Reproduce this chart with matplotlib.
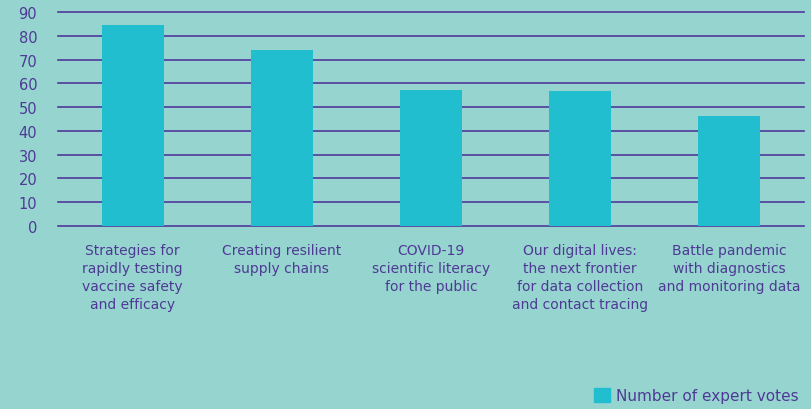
import matplotlib
matplotlib.use('Agg')
from matplotlib import pyplot as plt
from matplotlib.patches import Patch

categories = ['Strategies for\nrapidly testing\nvaccine safety\nand efficacy',
              'Creating resilient\nsupply chains',
              'COVID-19\nscientific literacy\nfor the public',
              'Our digital lives:\nthe next frontier\nfor data collection\nand contact tracing',
              'Battle pandemic\nwith diagnostics\nand monitoring data']
votes = [84.5, 74.0, 57.2, 56.8, 46.3]
yticks = [0, 10, 20, 30, 40, 50, 60, 70, 80, 90]

bg = '#96d4d0'
bar_color = '#20bece'
text_color = '#4e3a94'
grid_color = '#4f3a9a'

fig = plt.figure(figsize=(8.12, 4.10), dpi=100, facecolor=bg)
ax = fig.add_axes([58 / 812, 1 - 227 / 410, (804 - 58) / 812, 214 / 410])
ax.set_facecolor(bg)

x = range(len(categories))
ax.bar(x, votes, width=0.415, color=bar_color, zorder=3)

ax.set_ylim(0, 90)
ax.set_xlim(-0.5, len(categories) - 0.5)
ax.set_yticks(yticks)
ax.set_yticklabels([str(v) for v in yticks], fontsize=10.5)
ax.set_xticks(list(x))
ax.set_xticklabels(categories, linespacing=1.38, va='top', fontsize=10)
for s in ax.spines.values():
    s.set_visible(False)
ax.tick_params(axis='both', length=0, colors=text_color)
ax.tick_params(axis='x', pad=12)
ax.tick_params(axis='y', pad=15)
ax.yaxis.grid(True, color=grid_color, linewidth=1.2, zorder=0)
for gl in ax.get_ygridlines():
    gl.set_clip_on(False)
ax.set_axisbelow(True)

leg = fig.legend(handles=[Patch(color=bar_color, label='Number of expert votes')],
                 loc='lower right', bbox_to_anchor=(1.0, -0.02), frameon=False,
                 fontsize=11, handlelength=1.0, handleheight=1.0, handletextpad=0.4,
                 labelcolor=text_color)

fig.savefig('out.png', dpi=100, facecolor=bg)
